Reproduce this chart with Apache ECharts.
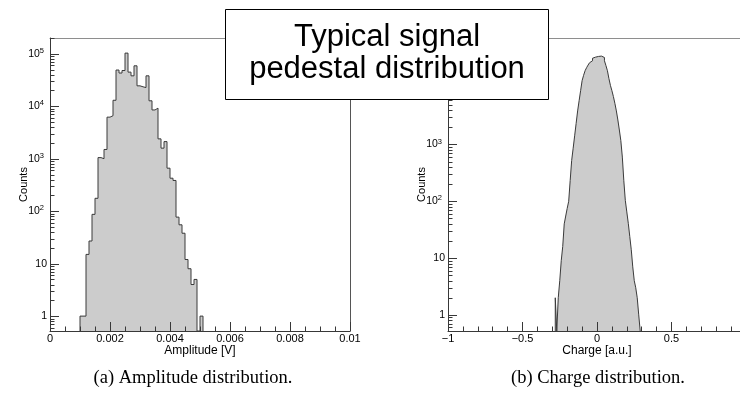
<!DOCTYPE html>
<html>
<head>
<meta charset="utf-8">
<script src="https://cdn.jsdelivr.net/npm/echarts@6/dist/echarts.min.js"></script>
<style>
  html, body { margin: 0; padding: 0; background: #ffffff; }
  #chart { width: 740px; height: 399px; }
</style>
</head>
<body>
<div id="chart"></div>
<script>
// Amplitude histogram: 0.0001 V wide bins, first filled bin starts at 0.0010 V
const ampBinStart = 0.0010;
const ampBinWidth = 0.0001;
const ampCounts = [
  1, 1, 15, 27, 87, 176, 1050, 1000, 1500, 6200,
  6600, 13000, 49000, 43000, 48000, 103000, 44700, 38000, 59000, 24500,
  23500, 22700, 38000, 12700, 8500, 9200, 2390, 1590, 2120, 660,
  425, 385, 77, 55, 38, 12, 8, 4, 5, 0,
  1
];

// Charge histogram: 0.01 wide bins, first filled bin starts at -0.28
const chargeBinStart = -0.28;
const chargeBinWidth = 0.01;
const chargeCounts = [
  2, 0, 2, 4, 9, 16, 40, 55, 75, 100,
  232, 523, 860, 1420, 2350, 3900, 5900, 8870, 13300, 16500,
  19900, 22500, 25000, 27500, 29800, 33000, 34500, 36500, 35500, 37000,
  36000, 36800, 34000, 29800, 24500, 19900, 14500, 11000, 8870, 7000,
  5300, 3900, 2700, 1800, 1170, 600, 230, 104, 65, 41,
  24, 14, 7, 4, 3, 2, 1
];

// Tick labels
const ampXTicks = [0, 0.002, 0.004, 0.006, 0.008, 0.01];
const chargeXTicks = [-1, -0.5, 0, 0.5, 1];
const ampYDecades = [0, 1, 2, 3, 4, 5];
const chargeYDecades = [0, 1, 2, 3, 4];

const AMP_Y = [0.52, 2e5];
const CHG_Y = [0.52, 7.5e4];

const AXIS = '#383838';
const SANS = "'Liberation Sans', Arial, Helvetica, sans-serif";
const SERIF = "'Liberation Serif', 'Times New Roman', serif";

// Outline of a histogram as a stepped polyline; empty bins fall to the axis floor
function histogramPoints(start, width, counts, floor) {
  const r = v => Math.round(v * 1e7) / 1e7;
  const pts = [[r(start), floor]];
  counts.forEach((c, i) => pts.push([r(start + i * width), c > 0 ? c : floor]));
  pts.push([r(start + counts.length * width), floor]);
  return pts;
}

// Tick values of a base-10 log axis: decades plus 2..9 multiples inside the range
function logTickValues(range) {
  const lo = Math.floor(Math.log10(range[0])), hi = Math.ceil(Math.log10(range[1]));
  const out = [];
  for (let d = lo; d <= hi; d++) {
    for (let m = 1; m <= 9; m++) {
      const v = m * Math.pow(10, d);
      if (v >= range[0] && v <= range[1]) out.push(v);
    }
  }
  return out;
}

function isDecade(v) {
  const e = Math.log10(v);
  return Math.abs(e - Math.round(e)) < 1e-6;
}

function logLabel(decades) {
  return function (v) {
    const k = Math.round(Math.log10(v));
    if (!isDecade(v) || decades.indexOf(k) < 0) return '';
    if (k === 0) return '{n|1}';
    if (k === 1) return '{n|10}';
    return '{n|10}{e|' + k + '}';
  };
}

function yLogAxis(gridIndex, range, decades) {
  return {
    type: 'log', logBase: 10, gridIndex: gridIndex,
    min: range[0], max: range[1], z: 5,
    axisLine: { show: true, onZero: false, lineStyle: { color: AXIS, width: 1 } },
    axisTick: { show: false },
    minorTick: { show: false },
    splitLine: { show: false }, minorSplitLine: { show: false },
    nameLocation: 'middle', name: 'Counts', nameRotate: 90, nameGap: 21,
    nameMoveOverlap: false,
    nameTextStyle: { fontFamily: SANS, fontSize: 11, color: '#000' },
    axisLabel: {
      margin: 3, color: '#000', fontFamily: SANS,
      formatter: logLabel(decades),
      rich: {
        n: { fontFamily: SANS, fontSize: 10.5, lineHeight: 14, color: '#000' },
        e: { fontFamily: SANS, fontSize: 7.5, lineHeight: 8, verticalAlign: 'top', color: '#000', padding: [0, 3, 0, 0] }
      }
    }
  };
}

function xValueAxis(gridIndex, min, max, interval, minorSplit, ticks, name, fmt) {
  return {
    type: 'value', gridIndex: gridIndex, position: 'bottom',
    min: min, max: max, interval: interval, z: 5,
    axisLine: { show: true, onZero: false, lineStyle: { color: AXIS, width: 1 } },
    axisTick: { show: true, inside: true, length: 9, lineStyle: { color: AXIS, width: 1 } },
    minorTick: { show: true, splitNumber: minorSplit, length: 4.5, lineStyle: { color: AXIS, width: 1 } },
    splitLine: { show: false }, minorSplitLine: { show: false },
    name: name, nameLocation: 'middle', nameGap: 14, nameMoveOverlap: false,
    nameTextStyle: { fontFamily: SANS, fontSize: 12, color: '#000' },
    axisLabel: {
      customValues: ticks, margin: 2, fontFamily: SANS, fontSize: 11, color: '#000',
      formatter: fmt
    }
  };
}

// Plain frame edges (top and right sides of each pad)
function frameX(gridIndex) {
  return {
    type: 'value', gridIndex: gridIndex, position: 'top', min: 0, max: 1, z: 4,
    axisLine: { show: true, onZero: false, lineStyle: { color: '#8e8e8e', width: 1 } },
    axisTick: { show: false }, axisLabel: { show: false }, splitLine: { show: false }
  };
}
function frameY(gridIndex) {
  return {
    type: 'value', gridIndex: gridIndex, position: 'right', min: 0, max: 1, z: 4,
    axisLine: { show: true, onZero: false, lineStyle: { color: '#555555', width: 1 } },
    axisTick: { show: false }, axisLabel: { show: false }, splitLine: { show: false }
  };
}

function histSeries(xi, yi, data) {
  return {
    type: 'line', xAxisIndex: xi, yAxisIndex: yi, data: data,
    step: 'end', symbol: 'none', silent: true, z: 2,
    lineStyle: { color: '#3a3a3a', width: 1 },
    areaStyle: { color: '#cccccc', opacity: 1, origin: 'start' }
  };
}

// Inward tick marks along the left edge of a log axis (long at decades, short between)
function yTickSeries(xi, yi, xLeft, range) {
  return {
    type: 'custom', xAxisIndex: xi, yAxisIndex: yi, silent: true, clip: false, z: 50,
    data: logTickValues(range).map(v => [xLeft, v]),
    renderItem: function (params, api) {
      const v = api.value(1);
      const p = api.coord([api.value(0), v]);
      const len = isDecade(v) ? 9 : 4.5;
      const y = Math.round(p[1]) + 0.5;
      return {
        type: 'line',
        shape: { x1: p[0], y1: y, x2: p[0] + len, y2: y },
        style: { stroke: AXIS, lineWidth: 1 }
      };
    }
  };
}

const minusFmt = v => String(v).replace('-', '\u2212');

const chart = echarts.init(document.getElementById('chart'), null, { renderer: 'canvas' });
chart.setOption({
  animation: false,
  backgroundColor: '#ffffff',
  grid: [
    { left: 50, top: 38, width: 300, height: 293, outerBoundsMode: 'none', containLabel: false },
    { left: 448, top: 38, width: 298, height: 293, outerBoundsMode: 'none', containLabel: false }
  ],
  xAxis: [
    xValueAxis(0, 0, 0.01, 0.002, 4, ampXTicks, 'Amplitude [V]', v => String(v)),
    xValueAxis(1, -1, 1, 0.5, 5, chargeXTicks, 'Charge [a.u.]', minusFmt),
    frameX(0),
    frameX(1)
  ],
  yAxis: [
    yLogAxis(0, AMP_Y, ampYDecades),
    yLogAxis(1, CHG_Y, chargeYDecades),
    frameY(0),
    frameY(1)
  ],
  series: [
    histSeries(0, 0, histogramPoints(ampBinStart, ampBinWidth, ampCounts, AMP_Y[0])),
    histSeries(1, 1, histogramPoints(chargeBinStart, chargeBinWidth, chargeCounts, CHG_Y[0])),
    yTickSeries(0, 0, 0, AMP_Y),
    yTickSeries(1, 1, -1, CHG_Y)
  ],
  graphic: [
    {
      type: 'rect', z: 100,
      shape: { x: 225.5, y: 9.5, width: 323, height: 90 },
      style: { fill: '#ffffff', stroke: '#000000', lineWidth: 1 }
    },
    {
      type: 'text', z: 101, x: 387, y: 37.5,
      style: { text: 'Typical signal', fill: '#000', font: "31px " + SANS, textAlign: 'center', textVerticalAlign: 'middle' }
    },
    {
      type: 'text', z: 101, x: 387, y: 69,
      style: { text: 'pedestal distribution', fill: '#000', font: "31px " + SANS, textAlign: 'center', textVerticalAlign: 'middle' }
    },
    {
      type: 'text', z: 101, x: 193, y: 378,
      style: { text: '(a) Amplitude distribution.', fill: '#000', font: "18.5px " + SERIF, textAlign: 'center', textVerticalAlign: 'middle' }
    },
    {
      type: 'text', z: 101, x: 598, y: 378,
      style: { text: '(b) Charge distribution.', fill: '#000', font: "18.5px " + SERIF, textAlign: 'center', textVerticalAlign: 'middle' }
    }
  ]
});
</script>
</body>
</html>
